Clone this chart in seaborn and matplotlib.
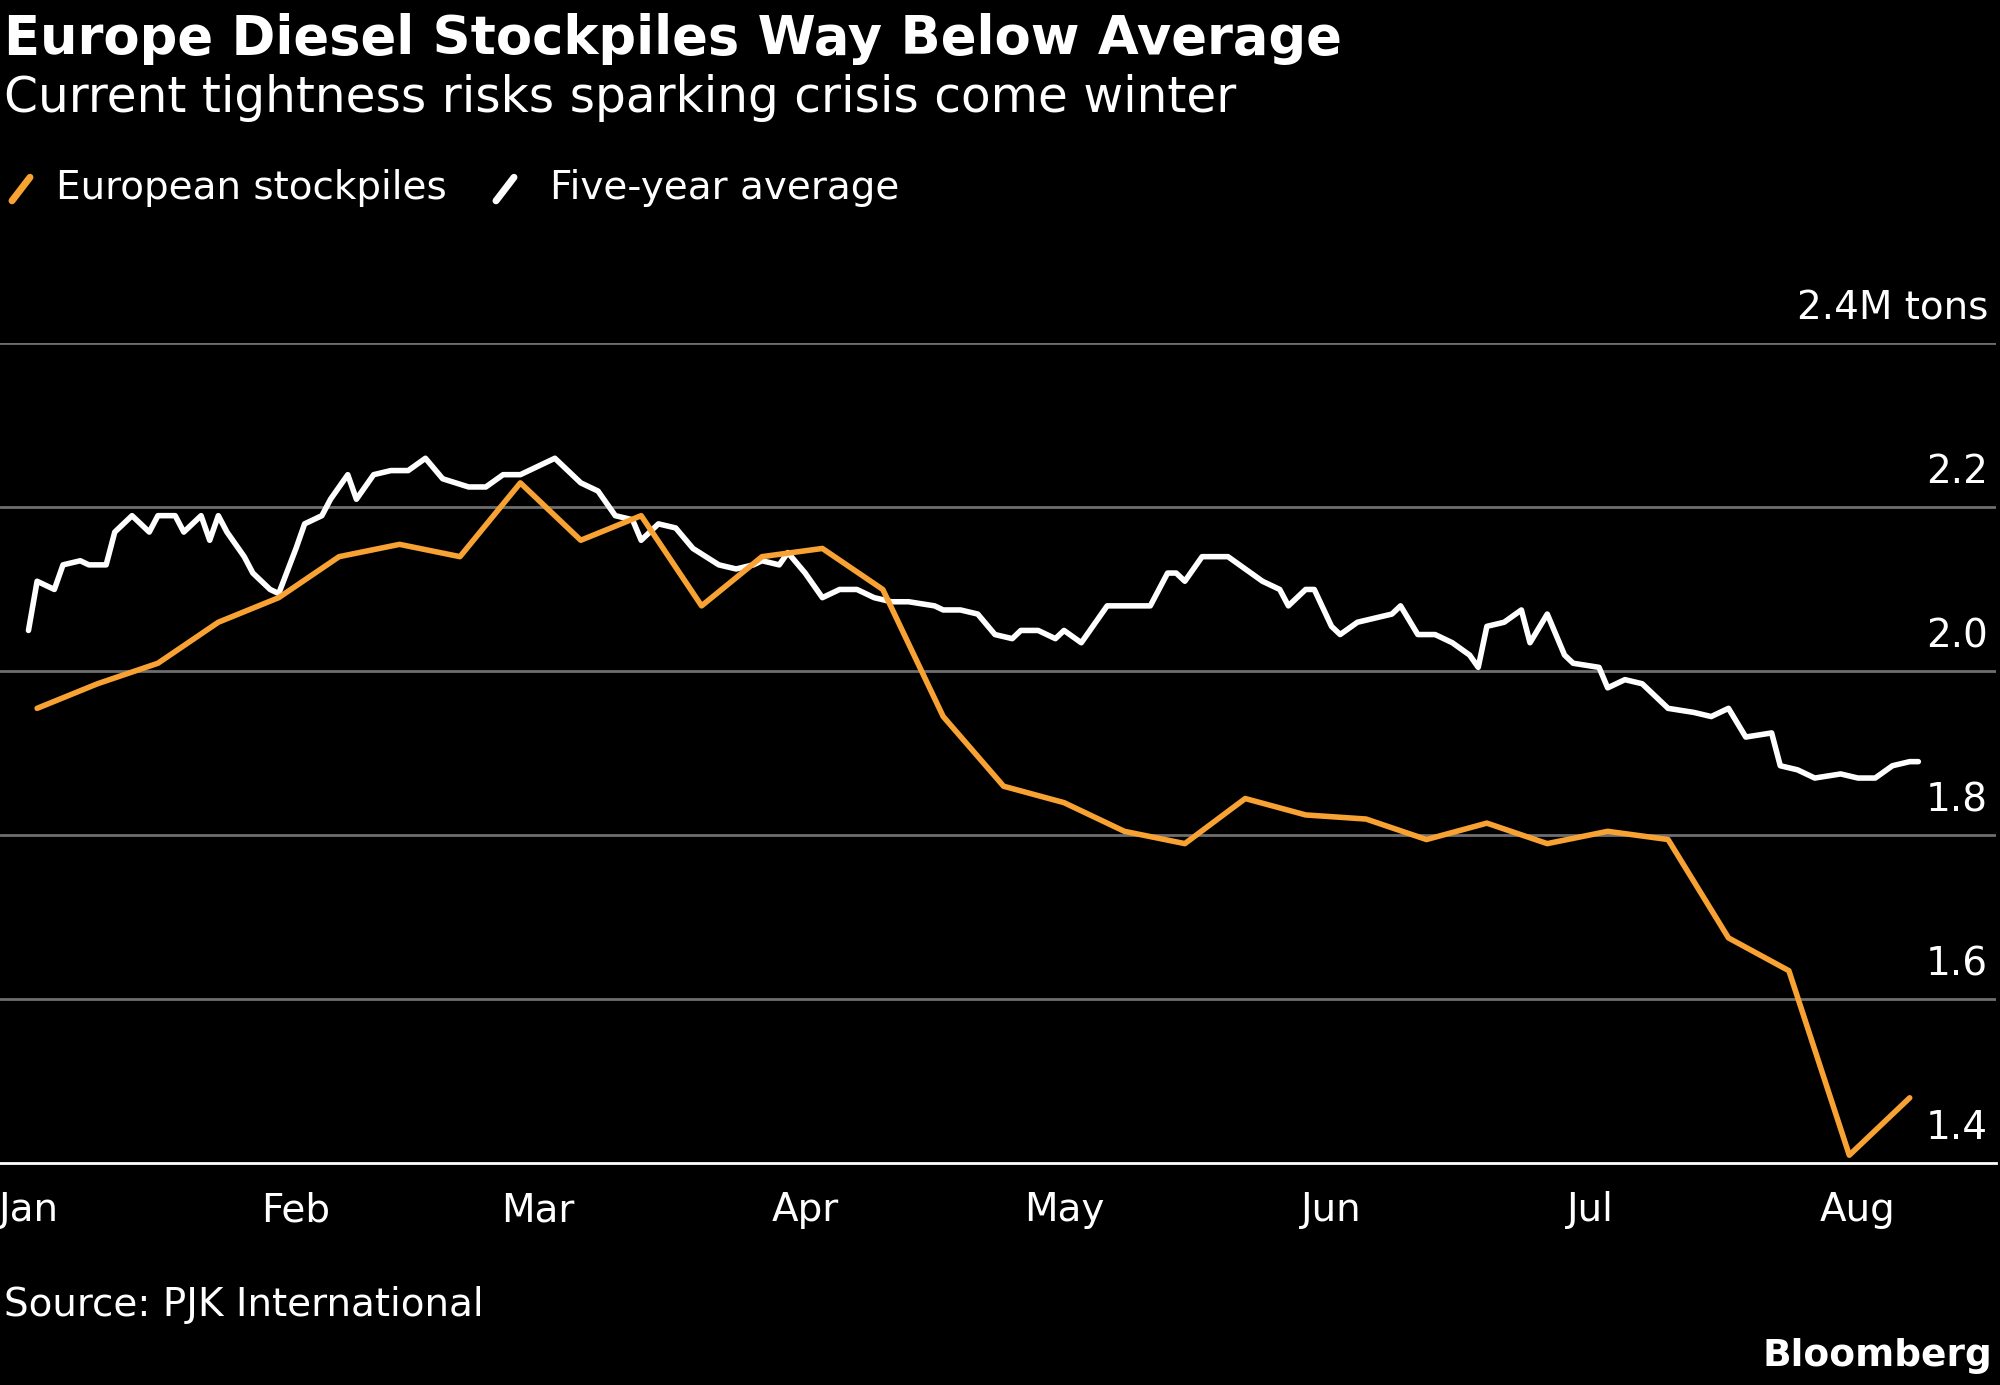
import numpy as np
import pandas as pd
import matplotlib.pyplot as plt
import matplotlib.dates as mdates
from matplotlib.lines import Line2D
import seaborn as sns

sns.set_style("dark")
plt.rcParams['font.family'] = ['Liberation Sans Narrow', 'DejaVu Sans']

# European stockpiles, weekly from Jan 2 (million tons)
euro_vals = [1.955, 1.985, 2.01, 2.06, 2.09, 2.14, 2.155, 2.14, 2.23, 2.16, 2.19,
             2.08, 2.14, 2.15, 2.10, 1.945, 1.86, 1.84, 1.805, 1.79, 1.845, 1.825,
             1.82, 1.795, 1.815, 1.79, 1.805, 1.795, 1.675, 1.635, 1.41, 1.48]
euro_dates = pd.date_range("2022-01-02", periods=len(euro_vals), freq="7D")

# five-year average, days since Jan 1
avg_days = [0, 1, 3, 4, 6, 7, 9, 10, 12, 14, 15, 17, 18, 20, 21, 22, 23, 25, 26, 28,
            29, 31, 32, 34, 35, 37, 38, 40, 42, 44, 46, 48, 51, 53, 55, 57, 60, 61, 62, 64,
            66, 68, 70, 71, 73, 75, 77, 80, 82, 84, 85, 87, 88, 90, 92, 94, 96, 98, 100, 102,
            105, 106, 108, 110, 112, 114, 115, 117, 119, 120, 122, 123, 125, 128, 130, 132, 133, 134, 136, 139,
            141, 143, 145, 146, 148, 149, 151, 152, 154, 156, 158, 159, 161, 163, 165, 167, 168, 169, 171, 173,
            174, 176, 178, 179, 182, 183, 185, 187, 188, 190, 193, 195, 197, 199, 202, 203, 205, 207, 210, 212,
            214, 216, 218, 219]
avg_vals = [2.05, 2.11, 2.10, 2.13, 2.135, 2.13, 2.13, 2.17, 2.19, 2.17, 2.19, 2.19, 2.17, 2.19, 2.16, 2.19, 2.17, 2.14, 2.12, 2.10,
            2.095, 2.15, 2.18, 2.19, 2.21, 2.24, 2.21, 2.24, 2.245, 2.245, 2.26, 2.235, 2.225, 2.225, 2.24, 2.24, 2.255, 2.26, 2.25, 2.23,
            2.22, 2.19, 2.185, 2.16, 2.18, 2.175, 2.15, 2.13, 2.125, 2.13, 2.135, 2.13, 2.145, 2.12, 2.09, 2.10, 2.10, 2.09, 2.085, 2.085,
            2.08, 2.075, 2.075, 2.07, 2.045, 2.04, 2.05, 2.05, 2.04, 2.05, 2.035, 2.05, 2.08, 2.08, 2.08, 2.12, 2.12, 2.11, 2.14, 2.14,
            2.125, 2.11, 2.10, 2.08, 2.10, 2.10, 2.055, 2.045, 2.06, 2.065, 2.07, 2.08, 2.045, 2.045, 2.035, 2.02, 2.005, 2.055, 2.06, 2.075,
            2.035, 2.07, 2.02, 2.01, 2.005, 1.98, 1.99, 1.985, 1.975, 1.955, 1.95, 1.945, 1.955, 1.92, 1.925, 1.885, 1.88, 1.87, 1.875, 1.87,
            1.87, 1.885, 1.89, 1.89]
avg_dates = pd.Timestamp("2022-01-01") + pd.to_timedelta(avg_days, unit="D")

y_ticks = [1.4, 1.6, 1.8, 2.0, 2.2, 2.4]
y_labels = ["1.4", "1.6", "1.8", "2.0", "2.2", "2.4M tons"]

orange = "#f7a232"
bg = "black"

fig = plt.figure(figsize=(20, 13.85), dpi=100, facecolor=bg)
ax = fig.add_axes([0.0, 0.160, 0.998, 0.592])
ax.set_facecolor(bg)

sns.lineplot(x=avg_dates, y=avg_vals, ax=ax, color="white", linewidth=4)
sns.lineplot(x=euro_dates, y=euro_vals, ax=ax, color=orange, linewidth=4)

ax.set_xlim(pd.Timestamp("2022-01-01") - pd.Timedelta(days=3.3), pd.Timestamp("2022-01-01") + pd.Timedelta(days=228))
ax.set_ylim(1.4, 2.4)
ax.set_yticks(y_ticks)
ax.set_yticklabels([])
ax.tick_params(axis='y', length=0)
ax.grid(False)
for v in y_ticks[1:]:
    ax.axhline(v, color="#6e6e6e", linewidth=2, zorder=0)
for v, lab in zip(y_ticks, y_labels):
    ax.text(0.996, v + 0.02, lab, transform=ax.get_yaxis_transform(), ha="right", va="bottom",
            color="white", fontsize=28)

ax.xaxis.set_major_locator(mdates.MonthLocator())
ax.xaxis.set_major_formatter(mdates.DateFormatter("%b"))
ax.tick_params(axis='x', colors="white", labelsize=28, length=12, width=2, pad=8)
ax.set_xlabel("")
ax.set_ylabel("")
for s in ["top", "right", "left"]:
    ax.spines[s].set_visible(False)
ax.spines["bottom"].set_color("white")
ax.spines["bottom"].set_linewidth(2)

fig.text(0.002, 0.972, "Europe Diesel Stockpiles Way Below Average", color="white",
         fontsize=38, fontweight="bold", va="center", ha="left")
fig.text(0.002, 0.929, "Current tightness risks sparking crisis come winter", color="white",
         fontsize=35, va="center", ha="left")

# legend
fig.add_artist(Line2D([0.006, 0.015], [0.855, 0.872], color=orange, linewidth=5, transform=fig.transFigure))
fig.text(0.028, 0.864, "European stockpiles", color="white", fontsize=28, va="center")
fig.add_artist(Line2D([0.248, 0.257], [0.855, 0.872], color="white", linewidth=5, transform=fig.transFigure))
fig.text(0.275, 0.864, "Five-year average", color="white", fontsize=28, va="center")

fig.text(0.002, 0.058, "Source: PJK International", color="white", fontsize=28, va="center")
fig.text(0.996, 0.021, "Bloomberg", color="white", fontsize=27, fontweight="bold", va="center", ha="right")

fig.savefig("out.png", dpi=100, facecolor=bg)
